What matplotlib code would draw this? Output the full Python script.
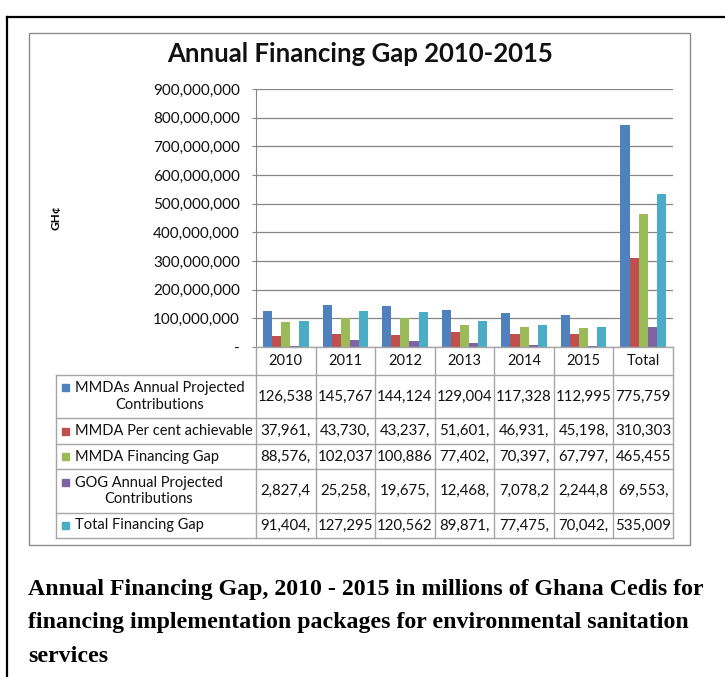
import matplotlib.pyplot as plt
import numpy as np
from matplotlib.patches import Rectangle
from matplotlib.lines import Line2D

# categories and series (values in GH¢, digits beyond what the table shows are unknown -> 0)
years = ["2010", "2011", "2012", "2013", "2014", "2015", "Total"]
series_names = ["MMDAs Annual Projected\nContributions",
                "MMDA Per cent achievable",
                "MMDA Financing Gap",
                "GOG Annual Projected\nContributions",
                "Total Financing Gap"]
mmdas_proj = [126538000, 145767000, 144124000, 129004000, 117328000, 112995000, 775759000]
mmda_achv = [37961000, 43730000, 43237000, 51601000, 46931000, 45198000, 310303000]
mmda_gap = [88576000, 102037000, 100886000, 77402000, 70397000, 67797000, 465455000]
gog_proj = [2827400, 25258000, 19675000, 12468000, 7078200, 2244800, 69553000]
total_gap = [91404000, 127295000, 120562000, 89871000, 77475000, 70042000, 535009000]
colors = ["#4F81BD", "#C0504D", "#9BBB59", "#8064A2", "#4BACC6"]

W, H = 725, 677
fig = plt.figure(figsize=(W / 100, H / 100), dpi=100)
FONT = "Lato"
TXT = "#111111"

def fx(x):
  return x / W

def fy(y):
  return 1 - y / H

# outer frame of the page and the chart frame
fig.add_artist(Line2D([fx(7), fx(725)], [fy(17), fy(17)], color="black", lw=1.6))
fig.add_artist(Line2D([fx(7), fx(7)], [fy(17), fy(677)], color="black", lw=1.6))
fig.add_artist(Rectangle((fx(29), fy(545)), fx(690) - fx(29), fy(33) - fy(545),
                         fill=False, ec="#8C8C8C", lw=1.0))

# plot area
left, right, top, bottom = 256, 673, 89, 347
ax = fig.add_axes([fx(left), fy(bottom), fx(right) - fx(left), fy(top) - fy(bottom)])
data = [mmdas_proj, mmda_achv, mmda_gap, gog_proj, total_gap]
x = np.arange(len(years))
bw = 0.153
for i, vals in enumerate(data):
  ax.bar(x + (i - 2) * bw, vals, bw, color=colors[i], zorder=3)

ax.set_xlim(-0.5, len(years) - 0.5)
ax.set_ylim(0, 900000000)
yt = np.arange(0, 900000001, 100000000)
ax.set_yticks(yt)
ax.set_yticklabels(["-" if v == 0 else f"{v:,}" for v in yt], fontsize=11, family=FONT,
                   color=TXT)
ax.tick_params(axis="y", length=3, color="#868686", pad=8.5)
ax.set_xticks([])
ax.grid(axis="y", color="#868686", lw=0.9, zorder=0)
for s in ["top", "right", "bottom"]:
  ax.spines[s].set_visible(False)
ax.spines["left"].set_color("#868686")
ax.set_ylabel("GH¢", fontsize=8.5, fontweight="bold", family=FONT)
ax.yaxis.set_label_coords(fx(62 - left) / (fx(right) - fx(left)), 0.5)

fig.text(fx(360), fy(54), "Annual Financing Gap 2010-2015", ha="center", va="center",
         fontsize=18.5, fontweight="bold", family=FONT, color=TXT)

# data table under the bars
col_w = (right - left) / len(years)
col_edges = [left + i * col_w for i in range(len(years) + 1)]
row_edges = [347, 375, 418, 444, 469, 513, 538]
lab_left = 56
gc = "#A6A6A6"

def hline(y, x0, x1):
  fig.add_artist(Line2D([fx(x0), fx(x1)], [fy(y), fy(y)], color=gc, lw=1.0))

def vline(xp, y0, y1):
  fig.add_artist(Line2D([fx(xp), fx(xp)], [fy(y0), fy(y1)], color=gc, lw=1.0))

hline(row_edges[0], left, right)
for y in row_edges[1:]:
  hline(y, lab_left, right)
vline(lab_left, row_edges[1], row_edges[-1])
for xe in col_edges:
  vline(xe, row_edges[0], row_edges[-1])

for j, yr in enumerate(years):
  fig.text(fx(col_edges[j] + col_w / 2), fy((row_edges[0] + row_edges[1]) / 2), yr,
           ha="center", va="center", fontsize=10.5, family=FONT, color=TXT)

for i, name in enumerate(series_names):
  yc = (row_edges[i + 1] + row_edges[i + 2]) / 2
  two = "\n" in name
  fig.text(fx(75), fy(yc), name, ha="left", va="center", fontsize=10.5,
           family=FONT, multialignment="center", linespacing=1.2, color=TXT)
  sq_y = yc - 9 if two else yc
  fig.add_artist(Rectangle((fx(62), fy(sq_y + 3.5)), fx(7), 7 / H, color=colors[i]))
  for j, v in enumerate(data[i]):
    fig.text(fx(col_edges[j] + col_w / 2), fy(yc), f"{v:,}"[:7],
             ha="center", va="center", fontsize=10.8, family=FONT, color=TXT)

# caption below the chart
caption = ["Annual Financing Gap, 2010 - 2015 in millions of Ghana Cedis for",
           "financing implementation packages for environmental sanitation",
           "services"]
for k, line in enumerate(caption):
  fig.text(fx(28), fy(589 + k * 33.5), line, ha="left", va="center", fontsize=17.2,
           fontweight="bold", family="Liberation Serif")

fig.savefig("out.png", dpi=100)
